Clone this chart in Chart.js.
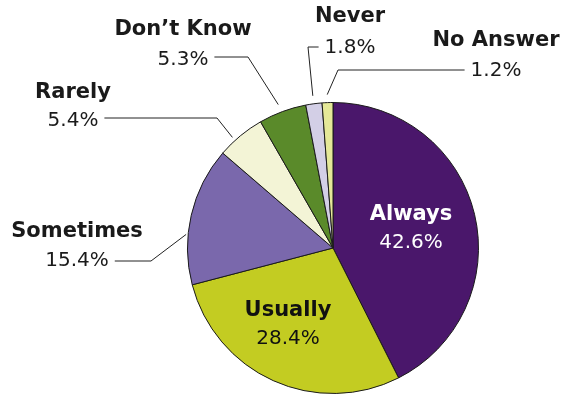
<!DOCTYPE html>
<html>
<head>
<meta charset="utf-8">
<script src="https://cdn.jsdelivr.net/npm/chart.js@4"></script>
<style>
  html, body { margin: 0; padding: 0; background: #fff; }
  #wrap { width: 564px; height: 397px; }
</style>
</head>
<body>
<div id="wrap"><canvas id="pie"></canvas></div>
<script>
// Survey answers, clockwise from 12 o'clock
const categories = ['Always', 'Usually', 'Sometimes', 'Rarely', "Don\u2019t Know", 'Never', 'No Answer'];
const shares = [42.6, 28.4, 15.4, 5.4, 5.3, 1.8, 1.2];
const sliceColors = ['#4a176b', '#c3cc22', '#7a68ac', '#f3f4d6', '#5a8a2a', '#d3cfe6', '#e5e898'];

// label placement: inside slices or outside with a leader line
// frac = where along the slice the leader touches, gap = distance off the rim
const labelLayout = [
  { inside: true, cx: 411, ly: 215, vy: 243, color: '#ffffff' },
  { inside: true, cx: 288, ly: 311, vy: 339, color: '#111111' },
  { cx: 77, ly: 232, vy: 261, elbow: [151, 261], side: 'right', frac: 0.36, gap: 2 },
  { cx: 73, ly: 93, vy: 121, elbow: [217, 118], side: 'right', frac: 0.36, gap: 4 },
  { cx: 183, ly: 30, vy: 60, elbow: [248, 57], side: 'right', frac: 0.47, gap: 8 },
  { cx: 350, ly: 17, vy: 48, elbow: [308, 47], side: 'left', frac: 0.5, gap: 8 },
  { cx: 496, ly: 41, vy: 71, elbow: [338, 70], side: 'left', frac: 0.5, gap: 8 }
];

const FONT = '"DejaVu Sans", sans-serif';

const pieLabels = {
  id: 'pieLabels',
  afterDatasetsDraw(chart) {
    const ctx = chart.ctx;
    const arcs = chart.getDatasetMeta(0).data;
    ctx.save();
    ctx.textAlign = 'center';
    ctx.textBaseline = 'middle';
    arcs.forEach((arc, i) => {
      const lay = labelLayout[i];
      const value = shares[i].toFixed(1) + '%';
      ctx.fillStyle = lay.color || '#1a1a1a';
      ctx.font = 'bold 21px ' + FONT;
      ctx.fillText(categories[i], lay.cx, lay.ly);
      ctx.font = '20px ' + FONT;
      ctx.fillText(value, lay.cx, lay.vy);
      if (lay.inside) return;

      // leader: from the value text to an elbow, then to just outside the arc
      const w = ctx.measureText(value).width;
      const startX = lay.side === 'right' ? lay.cx + w / 2 + 6 : lay.cx - w / 2 - 6;
      const ang = arc.startAngle + (arc.endAngle - arc.startAngle) * lay.frac;
      const r = arc.outerRadius + lay.gap;
      const endX = arc.x + Math.cos(ang) * r;
      const endY = arc.y + Math.sin(ang) * r;
      ctx.strokeStyle = '#222';
      ctx.lineWidth = 1;
      ctx.beginPath();
      ctx.moveTo(startX, lay.elbow[1]);
      ctx.lineTo(lay.elbow[0], lay.elbow[1]);
      ctx.lineTo(endX, endY);
      ctx.stroke();
    });
    ctx.restore();
  }
};

new Chart(document.getElementById('pie'), {
  type: 'pie',
  data: {
    labels: categories,
    datasets: [{
      data: shares,
      backgroundColor: sliceColors,
      borderColor: '#1a1a1a',
      borderWidth: 1
    }]
  },
  options: {
    responsive: true,
    maintainAspectRatio: false,
    animation: false,
    layout: { padding: { left: 187, right: 85, top: 102, bottom: 3 } },
    plugins: {
      legend: { display: false },
      tooltip: { enabled: false }
    }
  },
  plugins: [pieLabels]
});
</script>
</body>
</html>
